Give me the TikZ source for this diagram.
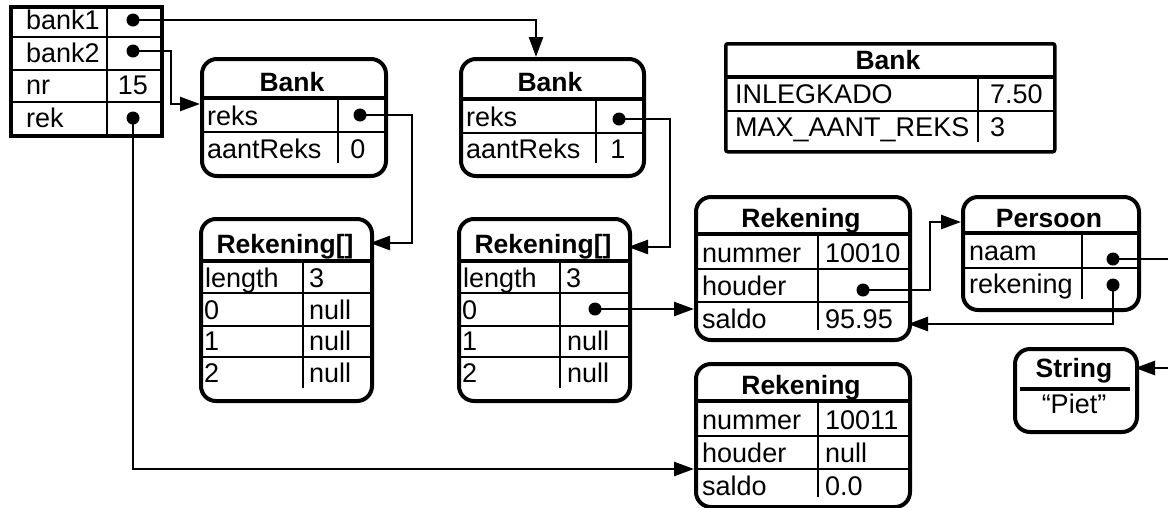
\documentclass[tikz,border=0pt]{standalone}
\usepackage{fontspec}
\setmainfont{Liberation Sans}
\usetikzlibrary{arrows.meta}
\begin{document}
\begin{tikzpicture}[x=1pt,y=-1pt,
  obox/.style={draw,line width=4pt,rounded corners=15pt,anchor=north west,inner sep=0pt},
  sbox/.style={draw,line width=3.5pt,anchor=north west,inner sep=0pt},
  hsep/.style={line width=4.5pt},
  rsep/.style={line width=2pt},
  ptr/.style={line width=2.5pt,-{Triangle[length=20pt,width=14pt]}},
  dotn/.style={circle,fill,inner sep=0pt,minimum size=13pt},
  lbl/.style={anchor=base west,inner sep=0pt,font=\fontsize{27}{31}\selectfont},
  cval/.style={anchor=base,inner sep=0pt,font=\fontsize{27}{31}\selectfont},
  hdr/.style={anchor=base,inner sep=0pt,font=\fontsize{26.5}{31}\selectfont\bfseries}
]
\useasboundingbox (0,0) rectangle (1168,507);
\clip (0,0) rectangle (1168,507);

% ---------------- variables table
\node[sbox,minimum width=151pt,minimum height=129pt] (vars) at (9,5) {};
\draw[rsep] (9,37) -- (160,37) (9,70) -- (160,70) (9,102) -- (160,102) (107,5) -- (107,134);
\node[lbl] (tbank1) at (26,29) {bank1};
\node[lbl] (tbank2) at (26,62) {bank2};
\node[lbl] (tnr) at (26,94) {nr};
\node[cval] (t15) at (133,94) {15};
\node[lbl] (trek) at (26,127) {rek};

% ---------------- Bank A
\node[obox,minimum width=184pt,minimum height=117pt] (bankA) at (200,57) {};
\node[hdr] (hBankA) at (292,91) {Bank};
\draw[hsep] (200,98) -- (384,98);
\draw[rsep] (200,132) -- (384,132) (338,98) -- (338,163);
\node[lbl] (tAreks) at (207,125) {reks};
\node[lbl] (tAaant) at (207,158) {aantReks};
\node[cval] (tA0) at (358,158) {0};

% ---------------- Bank B
\node[obox,minimum width=183pt,minimum height=117pt] (bankB) at (459,57) {};
\node[hdr] (hBankB) at (550,91) {Bank};
\draw[hsep] (459,99) -- (642,99);
\draw[rsep] (459,133) -- (642,133) (596,99) -- (596,163);
\node[lbl] (tBreks) at (466,126) {reks};
\node[lbl] (tBaant) at (466,158) {aantReks};
\node[cval] (tB1) at (618,158) {1};

% ---------------- static Bank
\node[sbox,minimum width=329pt,minimum height=108pt,rounded corners=2pt] (bankS) at (724,42) {};
\node[hdr] (hBankS) at (888,69) {Bank};
\draw[hsep] (724,77) -- (1053,77);
\draw[rsep] (724,111) -- (1053,111) (978,77) -- (978,142);
\node[lbl] (tInleg) at (735,103) {INLEGKADO};
\node[lbl] (tInlegV) at (990,103) {7.50};
\node[lbl] (tMax) at (735,136) {MAX\_AANT\_REKS};
\node[lbl] (tMaxV) at (990,136) {3};

% ---------------- Rekening[] A
\node[obox,minimum width=171pt,minimum height=182pt] (arrA) at (199,217) {};
\node[hdr] (hArrA) at (285,253) {Rekening[]};
\draw[hsep] (199,261) -- (370,261);
\draw[rsep] (199,293) -- (370,293) (199,326) -- (370,326) (199,357) -- (370,357) (303,261) -- (303,388);
\node[lbl] (tAlen) at (205,287) {length};
\node[lbl] (tAlenV) at (309,287) {3};
\node[lbl] (tAi0) at (204,319) {0};
\node[lbl] (tAv0) at (309,319) {null};
\node[lbl] (tAi1) at (204,350) {1};
\node[lbl] (tAv1) at (309,350) {null};
\node[lbl] (tAi2) at (204,382) {2};
\node[lbl] (tAv2) at (309,382) {null};

% ---------------- Rekening[] B
\node[obox,minimum width=171pt,minimum height=182pt] (arrB) at (457,217) {};
\node[hdr] (hArrB) at (543,253) {Rekening[]};
\draw[hsep] (457,261) -- (628,261);
\draw[rsep] (457,293) -- (628,293) (457,326) -- (628,326) (457,357) -- (628,357) (560,261) -- (560,388);
\node[lbl] (tBlen) at (463,287) {length};
\node[lbl] (tBlenV) at (566,287) {3};
\node[lbl] (tBi0) at (462,319) {0};
\node[lbl] (tBi1) at (462,350) {1};
\node[lbl] (tBv1) at (567,350) {null};
\node[lbl] (tBi2) at (462,382) {2};
\node[lbl] (tBv2) at (567,382) {null};

% ---------------- Rekening 1
\node[obox,minimum width=214pt,minimum height=143pt] (rek1) at (694,195) {};
\node[hdr] (hRek1) at (801,227) {Rekening};
\draw[hsep] (694,234) -- (908,234);
\draw[rsep] (694,269) -- (908,269) (694,302) -- (908,302) (818,234) -- (818,330);
\node[lbl] (t1num) at (702,262) {nummer};
\node[lbl] (t1numV) at (825,262) {10010};
\node[lbl] (t1houd) at (702,295) {houder};
\node[lbl] (t1sal) at (702,328) {saldo};
\node[lbl] (t1salV) at (825,328) {95.95};

% ---------------- Persoon
\node[obox,minimum width=176pt,minimum height=113pt] (pers) at (961,195) {};
\node[hdr] (hPers) at (1049,227) {Persoon};
\draw[hsep] (961,233) -- (1137,233);
\draw[rsep] (961,268) -- (1137,268) (1082,233) -- (1082,299);
\node[lbl] (tnaam) at (969,260) {naam};
\node[lbl] (trekn) at (969,293) {rekening};

% ---------------- String
\node[obox,minimum width=122pt,minimum height=83pt] (str) at (1013,347) {};
\node[hdr] (hStr) at (1074,377) {String};
\draw[hsep] (1020,389) -- (1130,389);
\node[cval] (tPiet) at (1074,413) {“Piet”};

% ---------------- Rekening 2
\node[obox,minimum width=214pt,minimum height=143pt] (rek2) at (694,362) {};
\node[hdr] (hRek2) at (801,394) {Rekening};
\draw[hsep] (694,401) -- (908,401);
\draw[rsep] (694,436) -- (908,436) (694,469) -- (908,469) (818,401) -- (818,497);
\node[lbl] (t2num) at (702,429) {nummer};
\node[lbl] (t2numV) at (825,429) {10011};
\node[lbl] (t2houd) at (702,462) {houder};
\node[lbl] (t2houdV) at (825,462) {null};
\node[lbl] (t2sal) at (702,495) {saldo};
\node[lbl] (t2salV) at (825,495) {0.0};

% ---------------- reference dots
\node[dotn] (dB1) at (133,20) {};
\node[dotn] (dB2) at (133,51) {};
\node[dotn] (dRek) at (133,118) {};
\node[dotn] (dAreks) at (360,115) {};
\node[dotn] (dBreks) at (619,119) {};
\node[dotn] (dArr0) at (595,309) {};
\node[dotn] (dHouder) at (863,290) {};
\node[dotn] (dNaam) at (1113,259) {};
\node[dotn] (dRekening) at (1113,285) {};

% ---------------- arrow targets
\coordinate (inBankB) at (536,57);
\coordinate (inBankA) at (200,104);
\coordinate (inArrA) at (370,243);
\coordinate (inArrB) at (628,247);
\coordinate (inRek1) at (694,309);
\coordinate (inRek1b) at (908,324);
\coordinate (inRek2) at (694,469);
\coordinate (inPers) at (961,222);
\coordinate (inStr) at (1135,368);

% ---------------- connectors
\draw[ptr] (dB1.center) -| (inBankB);
\draw[ptr] (dB2.center) -| ([xshift=-29pt]inBankA) -- (inBankA);
\draw[ptr] (dRek.center) |- (inRek2);
\draw[ptr] (dAreks.center) -| ([xshift=42pt]inArrA) -- (inArrA);
\draw[ptr] (dBreks.center) -| ([xshift=42pt]inArrB) -- (inArrB);
\draw[ptr] (dArr0.center) -- (inRek1);
\draw[ptr] (dHouder.center) -| ([xshift=-31pt]inPers) -- (inPers);
\draw[ptr] (dNaam.center) -| ([xshift=55pt]inStr) -- (inStr);
\draw[ptr] (dRekening.center) |- (inRek1b);
\end{tikzpicture}
\end{document}
